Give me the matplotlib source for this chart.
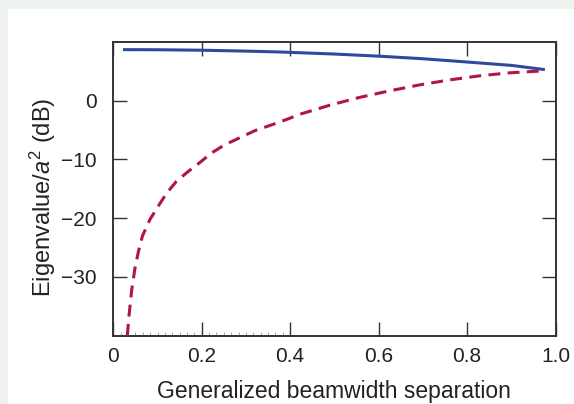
import numpy as np
import matplotlib
matplotlib.use("Agg")
import matplotlib.pyplot as plt
from matplotlib.patches import Rectangle
from matplotlib.ticker import FixedLocator

plt.rcParams['font.family'] = ['Liberation Sans', 'DejaVu Sans']
plt.rcParams['mathtext.fontset'] = 'custom'
plt.rcParams['mathtext.rm'] = 'Liberation Sans'
plt.rcParams['mathtext.it'] = 'Liberation Sans:italic'

# Data
sep_large = [0.022, 0.1, 0.2, 0.3, 0.377, 0.5, 0.603, 0.7, 0.799, 0.9, 0.976]
eig_large = [8.7, 8.68, 8.6, 8.45, 8.3, 7.95, 7.58, 7.15, 6.6, 6.02, 5.3]

sep_small = [0.0317, 0.0355, 0.0415, 0.049, 0.057, 0.066, 0.083, 0.102, 0.121,
             0.143, 0.170, 0.196, 0.222, 0.252, 0.286, 0.320, 0.362, 0.395,
             0.422, 0.490, 0.557, 0.625, 0.693, 0.761, 0.829, 0.896, 0.975]
eig_small = [-40.0, -36.6, -32.3, -28.5, -25.6, -23.0, -20.2, -17.9, -15.7,
             -13.7, -12.0, -10.5, -8.9, -7.5, -6.3, -5.1, -4.0, -3.1,
             -2.3, -0.75, 0.57, 1.69, 2.7, 3.55, 4.25, 4.75, 5.1]

xticks = [0, 0.2, 0.4, 0.6, 0.8, 1.0]
xticklabels = ["0", "0.2", "0.4", "0.6", "0.8", "1.0"]
yticks = [-30, -20, -10, 0]
yticklabels = ["\u221230", "\u221220", "\u221210", "0"]

W, H = 574, 404
fig = plt.figure(figsize=(W / 100, H / 100), dpi=100)
fig.patch.set_facecolor('#eef3f0')
fig.patches.append(Rectangle((8 / W, 0), 1 - 8 / W, 1 - 9 / H,
                             transform=fig.transFigure, facecolor='white',
                             edgecolor='none', zorder=-10))

ax = fig.add_axes([113.3 / W, 1 - 335.7 / H, (555.5 - 113.3) / W, (335.7 - 42) / H])
ax.set_zorder(5)
ax.set_facecolor('white')

ax.plot(sep_large, eig_large, color='#2f4a9c', lw=2.2, solid_capstyle='butt', zorder=3)
ax.plot(sep_small, eig_small, color='#b0154a', lw=2.2,
        linestyle=(0, (3.9, 2.4)), zorder=3)

ax.set_xlim(0, 1.0)
ax.set_ylim(-40, 10)

ax.set_xticks(xticks)
ax.set_xticklabels(xticklabels)
ax.set_yticks(yticks)
ax.set_yticklabels(yticklabels)
ax.xaxis.set_minor_locator(FixedLocator(np.arange(0, 0.41, 0.2 / 12)))

ax.tick_params(which='major', direction='in', length=10, width=1.0,
               color='#333333', labelsize=15, labelcolor='#222222',
               top=True, right=True)
ax.tick_params(axis='x', which='major', pad=8)
ax.tick_params(axis='y', which='major', pad=12)
ax.tick_params(axis='x', which='minor', direction='in', length=3, width=0.6,
               color='#999999', top=False)

for s in ax.spines.values():
    s.set_color('#333333')
    s.set_linewidth(1.4)

ax.set_xlabel("Generalized beamwidth separation", fontsize=16.5, color='#222222', labelpad=10)
ax.set_ylabel("Eigenvalue/$a^{2}$ (dB)", fontsize=17, color='#222222')
ax.yaxis.set_label_coords(-0.125, 0.47)

fig.savefig("out.png", dpi=100, facecolor=fig.get_facecolor())
